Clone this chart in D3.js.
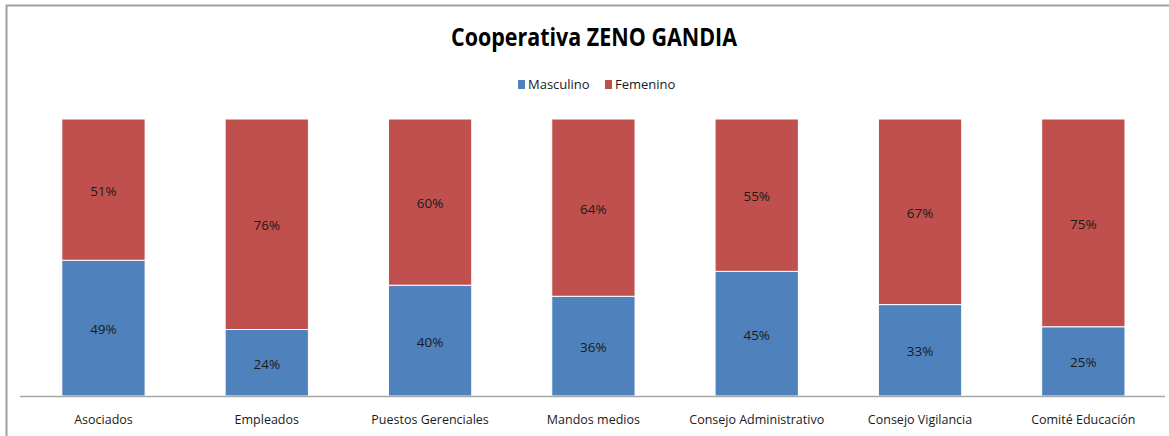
<!DOCTYPE html>
<html><head><meta charset="utf-8">
<script src="https://cdn.jsdelivr.net/npm/d3@7"></script>
<style>
body{margin:0;background:#fff;}
text{font-family:"Open Sans",sans-serif;}
</style></head>
<body><svg id="c" width="1169" height="436"></svg>
<script>
const categories = ["Asociados","Empleados","Puestos Gerenciales","Mandos medios","Consejo Administrativo","Consejo Vigilancia","Comité Educación"];
const masculino = [49,24,40,36,45,33,25];
const femenino = [51,76,60,64,55,67,75];
const seriesNames = ["Masculino","Femenino"];
const colors = ["#4F81BD","#C0504D"];
const titleText = "Cooperativa ZENO GANDIA";

const svg = d3.select("#c");
// frame
svg.append("path").attr("d","M6.5,436 L6.5,5.5 L1169,5.5").attr("fill","none").attr("stroke","#a0a0a0").attr("stroke-width",2);

const x = d3.scaleBand().domain(categories).range([21.8,1165]).paddingInner(0.49).paddingOuter(0.245);
const y = d3.scaleLinear().domain([0,100]).range([396,119]);

const data = categories.map((c,i)=>({cat:c, Masculino:masculino[i], Femenino:femenino[i]}));
const stack = d3.stack().keys(seriesNames)(data);

const g = svg.append("g");
stack.forEach((s,si)=>{
  g.selectAll(null).data(s).enter().append("rect")
    .attr("x",d=>x(d.data.cat)).attr("width",x.bandwidth())
    .attr("y",d=>y(d[1])).attr("height",d=>y(d[0])-y(d[1]))
    .attr("fill",colors[si]).attr("stroke","#fff").attr("stroke-width",1);
  g.selectAll(null).data(s).enter().append("text")
    .attr("x",d=>x(d.data.cat)+x.bandwidth()/2)
    .attr("y",d=>(y(d[0])+y(d[1]))/2+6)
    .attr("text-anchor","middle").attr("font-size",13.5).attr("fill","#1a1a1a")
    .text(d=>(d[1]-d[0])+"%");
});

// axis
const xa = svg.append("g").attr("transform","translate(0,396)")
  .call(d3.axisBottom(x).tickSize(0).tickPadding(19));
xa.select(".domain").attr("stroke","#a6a6a6").attr("stroke-width",1.5).attr("d","M20,0.5H1165");
xa.selectAll("text").attr("font-size",12.5).attr("fill","#1a1a1a").style("font-family","'Open Sans',sans-serif");

// title
svg.append("text").attr("x",594).attr("y",46).attr("text-anchor","middle")
  .attr("font-size",25).attr("font-weight","bold").attr("fill","#000")
  .attr("textLength",286).attr("lengthAdjust","spacingAndGlyphs")
  .text(titleText);

// legend
const legX = [518,605];
seriesNames.forEach((n,i)=>{
  svg.append("rect").attr("x",legX[i]).attr("y",80).attr("width",7).attr("height",9).attr("fill",colors[i]);
  svg.append("text").attr("x",legX[i]+10).attr("y",89).attr("font-size",13).attr("fill","#1a1a1a").text(n);
});
</script></body></html>
